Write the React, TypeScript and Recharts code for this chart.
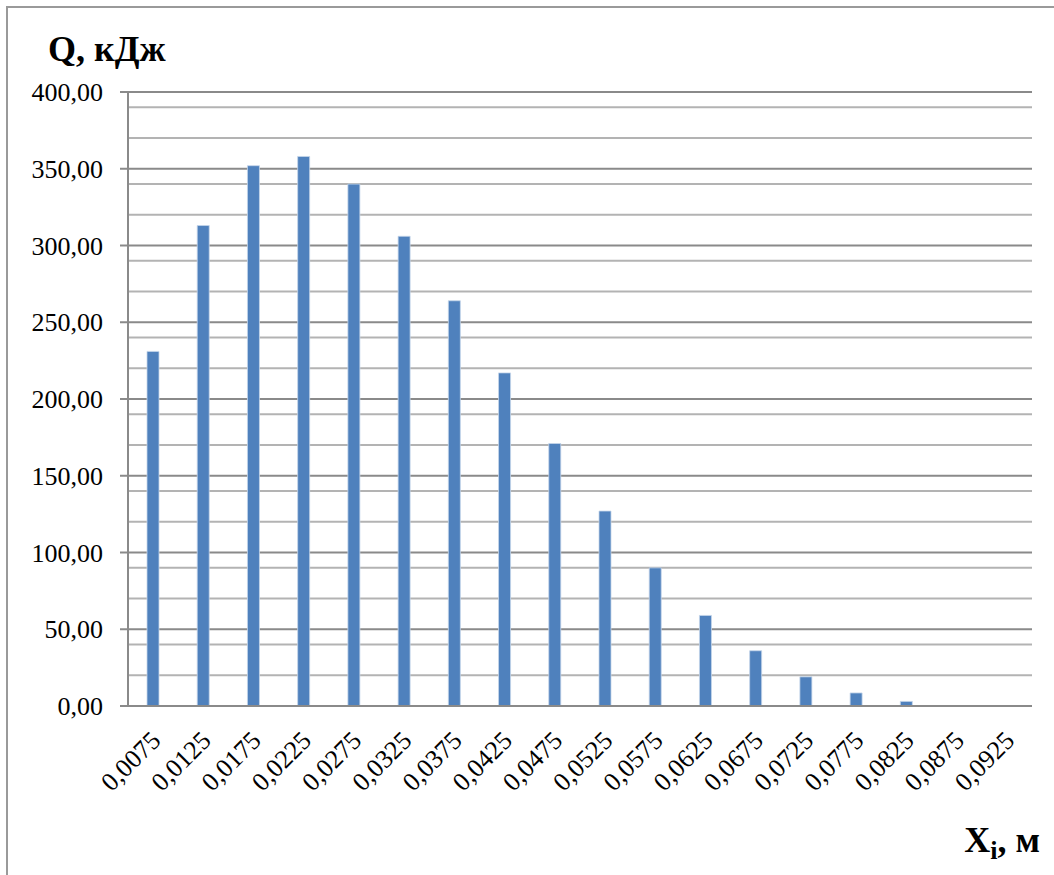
import React from 'react';
import { BarChart, Bar, XAxis, YAxis, CartesianGrid } from 'recharts';

const positions = [
  '0,0075', '0,0125', '0,0175', '0,0225', '0,0275', '0,0325', '0,0375', '0,0425', '0,0475',
  '0,0525', '0,0575', '0,0625', '0,0675', '0,0725', '0,0775', '0,0825', '0,0875', '0,0925',
];
const heatValues = [231, 313, 352, 358, 340, 306, 264, 217, 171, 127, 90, 59, 36, 19, 8.5, 3, 0, 0];
const majorTicks = [0, 50, 100, 150, 200, 250, 300, 350, 400];
const minorTicks = [
  10, 20, 30, 40, 60, 70, 80, 90, 110, 120, 130, 140, 160, 170, 180, 190,
  210, 220, 230, 240, 260, 270, 280, 290, 310, 320, 330, 340, 360, 370, 380, 390,
];

const data = positions.map((x, i) => ({ x, q: heatValues[i] }));

const FONT = 'Liberation Serif, serif';

const fmt = (v: number) => v.toFixed(2).replace('.', ',');

const XTick = (props: any) => {
  const { x, y, payload } = props;
  const tx = x + 9;
  const ty = y + 28;
  return (
    <text
      x={tx}
      y={ty}
      transform={`rotate(-45, ${tx}, ${ty})`}
      textAnchor="end"
      style={{ fontFamily: FONT, fontSize: 26 }}
      fill="#000"
    >
      {payload.value}
    </text>
  );
};

export default function App() {
  return (
    <div style={{ position: 'absolute', left: 0, top: 0, width: 1054, height: 875, overflow: 'hidden', background: '#fff', fontFamily: FONT }}>
      <BarChart
        width={1054}
        height={875}
        data={data}
        margin={{ top: 92, right: 22, bottom: 0, left: 0 }}
        barCategoryGap={0}
      >
        <CartesianGrid vertical={false} stroke="#b3b3b3" strokeWidth={2} horizontalValues={minorTicks} />
        <CartesianGrid vertical={false} stroke="#8a8a8a" strokeWidth={2} />
        <XAxis
          dataKey="x"
          height={169}
          tickLine={false}
          axisLine={{ stroke: '#8a8a8a', strokeWidth: 2 }}
          tick={<XTick />}
          interval={0}
        />
        <YAxis
          width={128}
          domain={[0, 400]}
          ticks={majorTicks}
          tickFormatter={fmt}
          tickSize={8}
          tickMargin={17}
          axisLine={{ stroke: '#8a8a8a', strokeWidth: 2 }}
          tickLine={{ stroke: '#8a8a8a', strokeWidth: 2 }}
          tick={{ fontFamily: FONT, fontSize: 26, fill: '#000' }}
        />
        <Bar dataKey="q" fill="#4f81bd" stroke="#c5d5ea" strokeWidth={0.8} barSize={12} isAnimationActive={false} />
      </BarChart>
      <svg width={1054} height={875} style={{ position: 'absolute', left: 0, top: 0, pointerEvents: 'none' }}>
        <rect x={7} y={7} width={1100} height={900} fill="none" stroke="#9a9a9a" strokeWidth={2} />
        <text x={48} y={61} style={{ fontFamily: FONT }} fontSize={36} fontWeight="bold" fill="#000">Q, кДж</text>
        <text x={1040} y={852} textAnchor="end" style={{ fontFamily: FONT }} fontSize={36} fontWeight="bold" fill="#000">
          X<tspan fontSize={26} dy={7}>i</tspan><tspan dy={-7}>, м</tspan>
        </text>
      </svg>
    </div>
  );
}
